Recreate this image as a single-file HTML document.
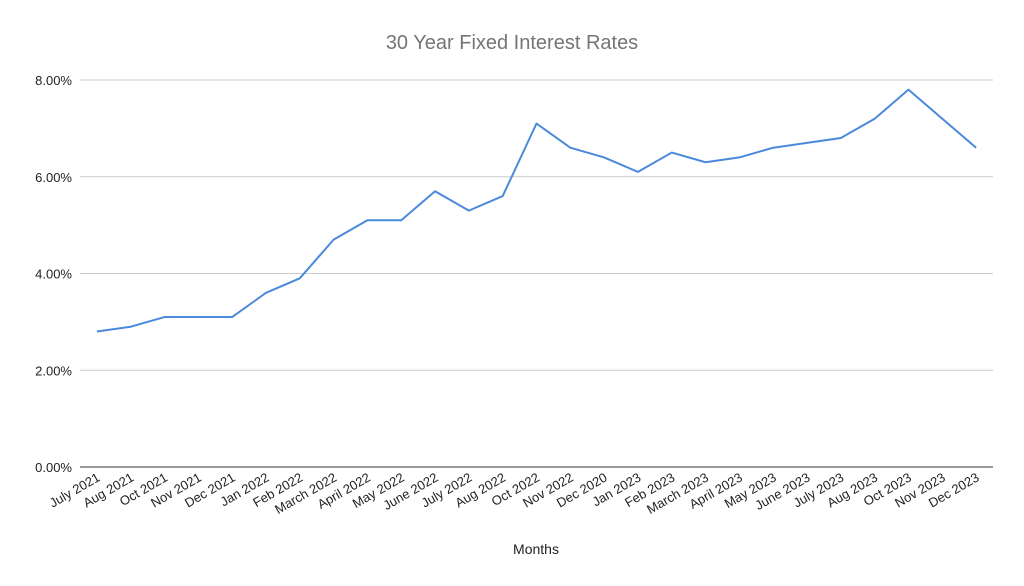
<!DOCTYPE html>
<html><head><meta charset="utf-8"><style>
html,body{margin:0;padding:0;background:#fff;}
svg{display:block;font-family:"Liberation Sans",Arial,sans-serif;}
</style></head><body>
<svg id="chart" width="1024" height="586" viewBox="0 0 1024 586">
<rect width="1024" height="586" fill="#fff"/>
<text x="512" y="49" text-anchor="middle" font-size="20" fill="#757575">30 Year Fixed Interest Rates</text>
<g id="grid"></g><g id="yaxis"></g><g id="xaxis"></g><g id="series"></g>
<text x="536" y="554" text-anchor="middle" font-size="14" fill="#222">Months</text>
</svg>
<script>
const categories = ["July 2021","Aug 2021","Oct 2021","Nov 2021","Dec 2021","Jan 2022","Feb 2022","March 2022","April 2022","May 2022","June 2022","July 2022","Aug 2022","Oct 2022","Nov 2022","Dec 2020","Jan 2023","Feb 2023","March 2023","April 2023","May 2023","June 2023","July 2023","Aug 2023","Oct 2023","Nov 2023","Dec 2023"];
const rates = [2.8,2.9,3.1,3.1,3.1,3.6,3.9,4.7,5.1,5.1,5.7,5.3,5.6,7.1,6.6,6.4,6.1,6.5,6.3,6.4,6.6,6.7,6.8,7.2,7.8,7.2,6.6];
const yTicks = [0,2,4,6,8];
const NS="http://www.w3.org/2000/svg";
const L=80,R=993,T=80,B=467,YMAX=8;
const band=(R-L)/categories.length;
const xs=i=>L+band*(i+0.5);
const ys=v=>B-(v/YMAX)*(B-T);
function mk(tag,attrs,parent){const e=document.createElementNS(NS,tag);for(const k in attrs)e.setAttribute(k,attrs[k]);parent.appendChild(e);return e;}
const grid=document.getElementById('grid'),ya=document.getElementById('yaxis'),xa=document.getElementById('xaxis'),se=document.getElementById('series');
yTicks.forEach(t=>{
  const y=ys(t);
  const ln=mk('line',{x1:L,x2:R,y1:y,y2:y,stroke:t===0?'#333':'#ccc','stroke-width':1},grid);
  
  
  const tx=mk('text',{x:L-8,y:y+5,'text-anchor':'end','font-size':13,fill:'#222'},ya);
  tx.textContent=t.toFixed(2)+'%';
  
  
});
categories.forEach((c,i)=>{
  const x=xs(i),y=B+13;
  const tx=mk('text',{x:x+4,y:y,'text-anchor':'end','font-size':13,fill:'#222',transform:`rotate(-30 ${x+4} ${y})`},xa);
  tx.textContent=c;
  
  
});
const pl=mk('polyline',{points:rates.map((v,i)=>xs(i)+','+ys(v)).join(' '),fill:'none',stroke:'#4a89dc','stroke-width':2,'stroke-linejoin':'round'},se);


</script>
</body></html>
